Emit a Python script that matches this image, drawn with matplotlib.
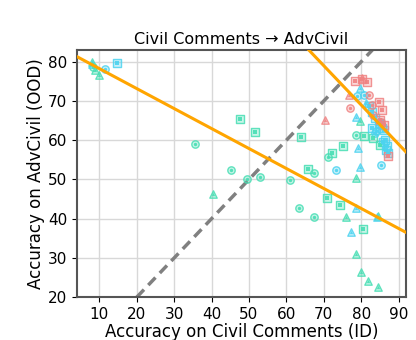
import matplotlib
matplotlib.use("Agg")
import matplotlib.pyplot as plt
from matplotlib.colors import to_rgba

# teal (green-aqua) points: (x, y, marker)
teal_x = [7.9, 8.3, 8.8, 9.8, 35.7, 40.4, 45.1, 49.4, 52.9, 61.0, 65.7, 67.3, 63.5, 67.4,
          47.7, 51.6, 64.0, 75.2, 72.3, 71.2, 70.9, 74.3, 75.9, 80.5, 78.5, 80.0, 81.7, 84.4,
          78.6, 79.6, 78.5, 80.7, 83.2, 85.1, 84.4]
teal_y = [80.0, 78.7, 77.8, 76.5, 59.1, 46.2, 52.5, 50.1, 50.7, 49.9, 52.6, 51.6, 42.7, 40.4,
          65.5, 62.0, 60.7, 58.6, 56.7, 55.7, 45.2, 43.5, 40.4, 37.3, 30.9, 26.4, 24.1, 22.6,
          50.3, 64.8, 61.4, 61.0, 60.6, 58.8, 40.6]
teal_m = ["^", "o", "^", "^", "o", "^", "o", "o", "o", "o", "s", "o", "o", "o",
          "s", "s", "s", "s", "s", "o", "s", "s", "^", "s", "^", "^", "^", "^",
          "^", "^", "o", "s", "s", "s", "^"]

# cyan points
cyan_x = [8.0, 11.6, 14.7, 73.3, 79.6, 85.4, 78.5, 77.4, 84.2, 79.2, 78.5, 79.8, 78.9, 80.7,
          82.0, 82.8, 83.6, 84.7, 85.5, 82.9, 85.1, 86.0, 86.4, 86.9, 87.3, 83.8, 85.9, 86.6,
          81.2, 84.1]
cyan_y = [79.5, 78.2, 79.6, 52.5, 53.1, 53.6, 42.8, 36.7, 40.4, 58.0, 65.9, 73.4, 71.2, 71.4,
          68.6, 67.3, 65.7, 64.2, 63.2, 63.1, 64.4, 62.7, 60.1, 58.4, 56.7, 61.8, 59.5, 57.4,
          69.5, 62.4]
cyan_m = ["^", "o", "s", "o", "^", "o", "^", "^", "^", "^", "^", "^", "o", "o",
          "s", "s", "s", "s", "s", "s", "s", "s", "s", "s", "s", "o", "s", "s",
          "^", "o"]

# red points
red_x = [78.3, 80.2, 81.6, 80.2, 76.7, 76.9, 70.3, 82.2, 84.7, 85.5, 83.3, 85.2, 85.1, 87.2,
         83.0, 86.0]
red_y = [75.0, 75.5, 74.8, 75.9, 71.4, 68.2, 65.1, 71.4, 69.8, 67.8, 66.5, 64.7, 65.2, 55.9,
         68.9, 64.0]
red_m = ["s", "s", "s", "^", "^", "o", "^", "o", "s", "s", "o", "o", "s", "s",
         "o", "s"]

# orange fit lines (endpoints)
fit1_x = [4, 92]
fit1_y = [81.3, 36.5]
fit2_x = [66.0, 92]
fit2_y = [83.0, 57.0]
diag = [20, 83]

TEAL = "#48deb4"
CYAN = "#4cd3f0"
RED = "#f08383"

fig = plt.figure(figsize=(4.16, 3.40), dpi=100)
ax = fig.add_axes([0.185, 0.126, 0.791, 0.727])

ax.grid(True, color="#d8d8d8", lw=1.0, zorder=0)
ax.set_axisbelow(True)

ax.plot(diag, diag, color="gray", ls="--", lw=2.5, dashes=(3, 1.8), zorder=2)


def draw(xs, ys, ms, col):
    for m in ["o", "s", "^"]:
        px = [x for x, mm in zip(xs, ms) if mm == m]
        py = [y for y, mm in zip(ys, ms) if mm == m]
        ax.scatter(px, py, marker=m, s=28, facecolors=[to_rgba(col, 0.3)],
                   edgecolors=[to_rgba(col, 0.85)], linewidths=1.0, zorder=3)
        ax.scatter(px, py, marker=m, s=6, color=col, linewidths=0, alpha=0.9, zorder=4)


draw(teal_x, teal_y, teal_m, TEAL)
draw(cyan_x, cyan_y, cyan_m, CYAN)
draw(red_x, red_y, red_m, RED)

ax.plot(fit1_x, fit1_y, color="orange", lw=2.2, zorder=5)
ax.plot(fit2_x, fit2_y, color="orange", lw=2.2, zorder=5)

ax.set_xlim(4, 92)
ax.set_ylim(20, 83)
ax.set_xticks(range(10, 91, 10))
ax.set_yticks(range(20, 81, 10))
ax.tick_params(labelsize=11)
for s in ax.spines.values():
    s.set_color("#555555")
    s.set_linewidth(1.5)

ax.set_title("Civil Comments \u2192 AdvCivil", fontsize=11.5, pad=4)
ax.set_xlabel("Accuracy on Civil Comments (ID)", fontsize=12, labelpad=1)
ax.set_ylabel("Accuracy on AdvCivil (OOD)", fontsize=12, labelpad=2)

fig.savefig("out.png", dpi=100)
